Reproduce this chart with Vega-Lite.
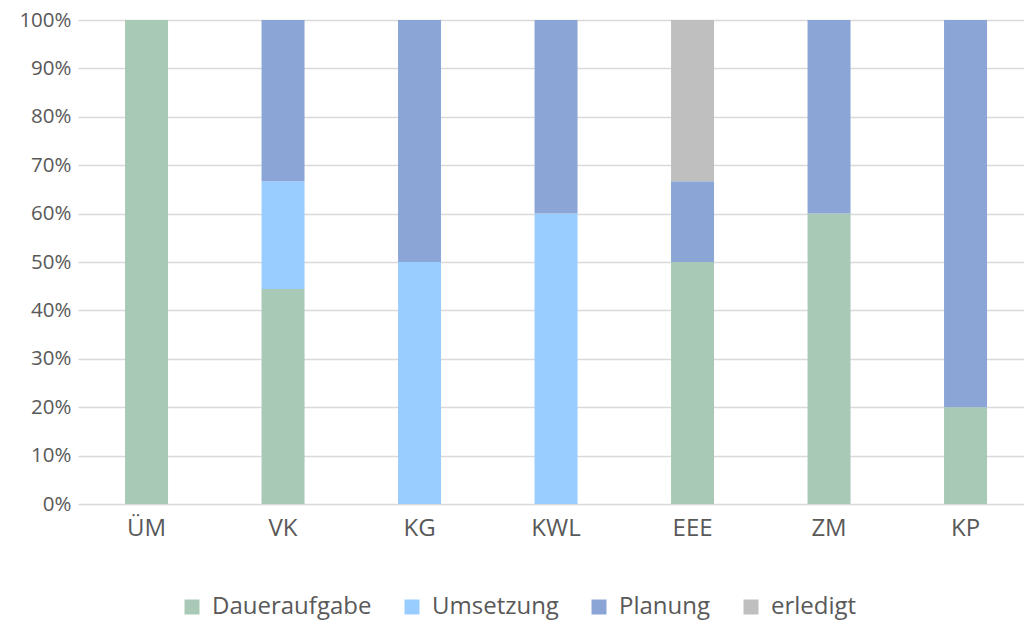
{
  "$schema": "https://vega.github.io/schema/vega-lite/v6.json",
  "autosize": {"type": "none"},
  "padding": {"left": 78, "top": 20, "right": 0, "bottom": 120},
  "width": 946,
  "height": 484,
  "background": "white",
  "config": {
    "font": "Open Sans",
    "view": {"stroke": null}
  },
  "data": {
    "values": [
      {"bereich": "ÜM", "status": "Daueraufgabe", "ord": 1, "anzahl": 1},
      {"bereich": "VK", "status": "Daueraufgabe", "ord": 1, "anzahl": 4},
      {"bereich": "VK", "status": "Umsetzung", "ord": 2, "anzahl": 2},
      {"bereich": "VK", "status": "Planung", "ord": 3, "anzahl": 3},
      {"bereich": "KG", "status": "Umsetzung", "ord": 2, "anzahl": 1},
      {"bereich": "KG", "status": "Planung", "ord": 3, "anzahl": 1},
      {"bereich": "KWL", "status": "Umsetzung", "ord": 2, "anzahl": 3},
      {"bereich": "KWL", "status": "Planung", "ord": 3, "anzahl": 2},
      {"bereich": "EEE", "status": "Daueraufgabe", "ord": 1, "anzahl": 3},
      {"bereich": "EEE", "status": "Planung", "ord": 3, "anzahl": 1},
      {"bereich": "EEE", "status": "erledigt", "ord": 4, "anzahl": 2},
      {"bereich": "ZM", "status": "Daueraufgabe", "ord": 1, "anzahl": 3},
      {"bereich": "ZM", "status": "Planung", "ord": 3, "anzahl": 2},
      {"bereich": "KP", "status": "Daueraufgabe", "ord": 1, "anzahl": 1},
      {"bereich": "KP", "status": "Planung", "ord": 3, "anzahl": 4}
    ]
  },
  "mark": {"type": "bar"},
  "encoding": {
    "x": {
      "field": "bereich",
      "type": "nominal",
      "sort": ["ÜM", "VK", "KG", "KWL", "EEE", "ZM", "KP"],
      "scale": {"paddingInner": 0.685, "paddingOuter": 0.3077, "align": 0.56},
      "axis": {
        "title": null,
        "labelAngle": 0,
        "domain": false,
        "ticks": false,
        "labelFontSize": 24,
        "labelColor": "#595959",
        "labelPadding": 12,
        "grid": false
      }
    },
    "y": {
      "field": "anzahl",
      "type": "quantitative",
      "stack": "normalize",
      "scale": {"domain": [0, 1]},
      "axis": {
        "title": null,
        "format": ".0%",
        "values": [0, 0.1, 0.2, 0.3, 0.4, 0.5, 0.6, 0.7, 0.8, 0.9, 1],
        "domain": false,
        "ticks": false,
        "labelFontSize": 20.5,
        "labelColor": "#595959",
        "labelPadding": 7,
        "grid": true,
        "gridColor": "#d9d9d9",
        "gridWidth": 1.5
      }
    },
    "color": {
      "field": "status",
      "type": "nominal",
      "scale": {
        "domain": ["Daueraufgabe", "Umsetzung", "Planung", "erledigt"],
        "range": ["#a8c9b5", "#99ccff", "#8ba6d6", "#bfbfbf"]
      },
      "legend": {
        "title": null,
        "orient": "none",
        "direction": "horizontal",
        "legendX": 102,
        "legendY": 575,
        "symbolType": "square",
        "symbolSize": 225,
        "symbolStrokeWidth": 0,
        "labelFontSize": 24,
        "labelColor": "#595959",
        "labelOffset": 8,
        "columnPadding": 28
      }
    },
    "order": {"field": "ord", "type": "quantitative"}
  }
}
